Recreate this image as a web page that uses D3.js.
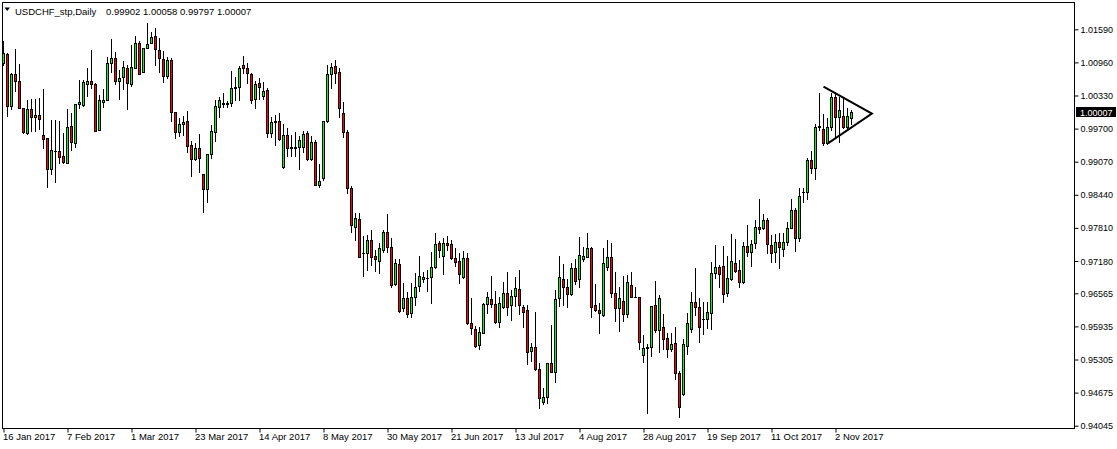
<!DOCTYPE html>
<html><head><meta charset="utf-8">
<script src="https://cdn.jsdelivr.net/npm/d3@7"></script>
<style>
html,body{margin:0;padding:0;background:#fff;overflow:hidden;}
svg{display:block;}
text{font-family:"Liberation Sans",Arial,sans-serif;fill:#000;}
</style></head><body>
<svg id="chart" width="1117" height="449"></svg>
<script>
const symbolLabel = "USDCHF_stp,Daily";
const headerValues = "0.99902 1.00058 0.99797 1.00007";

const open = [1.00949,1.01120,1.00131,1.00740,1.00606,1.00093,0.99617,1.00074,0.99922,0.99960,
0.99579,0.99521,0.98931,0.99274,0.99274,0.99179,0.99046,0.99750,0.99426,1.00169,
1.00150,1.00549,1.00606,1.00549,0.99674,1.00207,1.00245,1.00949,1.01044,1.00606,
1.00682,1.00854,1.00549,1.00854,1.01330,1.00778,1.01235,1.01330,1.01463,1.01196,
1.01025,1.00702,1.01006,1.00017,0.99636,0.99788,0.99845,0.99388,0.99122,0.99331,
0.98836,0.98551,0.99217,0.99636,1.00112,1.00169,1.00169,1.00188,1.00473,1.00492,
1.00911,1.00854,1.00740,1.00264,1.00568,1.00321,1.00435,0.99617,0.99826,0.99845,
0.98969,0.99579,0.99350,0.99331,0.99350,0.99350,0.99617,0.99122,0.99445,0.98627,
0.98760,0.99845,1.00740,1.00892,1.00778,0.99998,0.99636,0.98570,0.97827,0.97980,
0.97333,0.97333,0.97580,0.97275,0.97180,0.97390,0.97732,0.97447,0.96742,0.97123,
0.96286,0.96476,0.96191,0.96495,0.96704,0.96838,0.96857,0.96876,0.97066,0.97523,
0.97275,0.97523,0.97504,0.97237,0.97180,0.96876,0.97237,0.96000,0.95886,0.95581,
0.95810,0.96362,0.96457,0.96362,0.96019,0.96305,0.96571,0.96343,0.96514,0.96647,
0.96305,0.96248,0.95467,0.95543,0.95124,0.94496,0.94591,0.95239,0.95067,0.96476,
0.96838,0.96685,0.96552,0.97047,0.96838,0.97218,0.97256,0.97428,0.96343,0.96248,
0.96153,0.97066,0.97256,0.96571,0.96286,0.96419,0.96172,0.96723,0.96495,0.96495,
0.95391,0.95524,0.95543,0.96343,0.95867,0.95924,0.95715,0.95505,0.95619,0.95048,
0.94649,0.95562,0.95886,0.96400,0.96305,0.96076,0.96076,0.96191,0.96952,0.97066,
0.97085,0.96571,0.96838,0.97142,0.97009,0.96781,0.97466,0.97352,0.97523,0.97827,
0.97808,0.97961,0.97485,0.97352,0.97542,0.97409,0.97542,0.97808,0.98151,0.97618,
0.98494,0.98494,0.99103,0.98950,0.99731,0.99693,0.99426,0.99731,1.00302,0.99922,
0.99941,0.99731,0.99902];

const high = [1.01368,1.01139,1.00759,1.01216,1.00930,1.00100,1.00245,1.00264,1.00264,1.00283,
1.00454,0.99530,0.99864,0.99864,0.99845,0.99617,1.00074,0.99998,1.00175,1.00625,
1.00625,1.00854,1.01196,1.00560,1.00340,1.00454,1.01063,1.01406,1.01158,1.00816,
1.00987,1.00911,1.01292,1.01463,1.01368,1.01240,1.01710,1.01539,1.01615,1.01425,
1.01177,1.01063,1.01044,1.00025,0.99902,0.99941,1.00036,0.99464,0.99426,0.99598,
0.98845,0.99225,0.99769,1.00245,1.00302,1.00378,1.00226,1.00797,1.00682,1.00892,
1.01082,1.00949,1.00750,1.00606,1.00663,1.00587,1.00473,0.99922,0.99960,0.99998,
0.99788,0.99712,0.99579,0.99636,0.99560,0.99655,0.99655,0.99560,0.99483,0.99027,
0.99850,1.00911,1.00949,1.01006,1.00854,1.00207,0.99674,0.98608,0.98094,0.98094,
0.97656,0.97675,0.97770,0.97390,0.97523,0.97770,0.98075,0.97618,0.97218,0.97218,
0.96761,0.96590,0.96761,0.96952,0.97275,0.96971,0.97009,0.97352,0.97713,0.97561,
0.97618,0.97656,0.97580,0.97428,0.97333,0.97371,0.97333,0.96476,0.95943,0.95924,
0.96381,0.96590,0.96895,0.96609,0.96495,0.96781,0.96971,0.96628,0.96876,0.97009,
0.96343,0.96343,0.95619,0.96210,0.95239,0.94763,0.95245,0.95962,0.96628,0.97275,
0.97123,0.96838,0.97142,0.97218,0.97637,0.97447,0.97713,0.97447,0.96742,0.96381,
0.97428,0.97580,0.97523,0.96971,0.96685,0.96895,0.96914,0.96971,0.96685,0.96500,
0.95772,0.95600,0.96330,0.96800,0.96533,0.96172,0.95810,0.95810,0.95924,0.95086,
0.95696,0.96191,0.96590,0.97047,0.96476,0.96400,0.96400,0.97161,0.97485,0.97104,
0.97466,0.97275,0.97694,0.97599,0.97199,0.97542,0.97866,0.97580,0.97961,0.98360,
0.98075,0.97999,0.97675,0.97694,0.97713,0.97713,0.97923,0.98360,0.98189,0.98570,
0.98570,0.99141,0.99274,0.99788,1.00378,0.99979,0.99902,1.00378,1.00359,1.00302,
1.00283,1.00093,1.00058];

const low = [1.00911,0.99941,1.00074,1.00416,1.00090,0.99617,0.99598,0.99655,0.99655,0.99693,
0.99331,0.98589,0.98836,0.98684,0.99046,0.99046,0.99040,0.99293,0.99350,1.00093,
1.00131,1.00321,1.00473,0.99650,0.99670,1.00112,1.00240,1.00778,1.00549,1.00264,
1.00454,1.00074,1.00511,1.00850,1.00735,1.00770,1.01230,1.01325,1.00911,1.00778,
1.00587,1.00663,0.99845,0.99521,0.99560,0.99579,0.99255,0.98798,0.99103,0.98874,
0.98113,0.98303,0.99141,0.99464,0.99922,1.00112,1.00112,1.00131,1.00245,1.00245,
1.00759,1.00568,1.00188,1.00093,1.00264,1.00264,0.99540,0.99540,0.99388,0.99483,
0.98950,0.99179,0.99179,0.99179,0.98931,0.99255,0.99103,0.99103,0.98620,0.98589,
0.98722,0.99826,1.00473,1.00568,0.99922,0.99540,0.98475,0.97732,0.97580,0.97250,
0.96895,0.97009,0.97104,0.96990,0.96952,0.97352,0.97352,0.96685,0.96715,0.96210,
0.96229,0.96115,0.96115,0.96343,0.96609,0.96781,0.96609,0.96381,0.97047,0.97256,
0.96933,0.97390,0.97218,0.97085,0.96761,0.96857,0.95981,0.95791,0.95543,0.95505,
0.95805,0.96191,0.96305,0.96000,0.95924,0.96286,0.96153,0.96057,0.96324,0.96172,
0.95924,0.95220,0.95277,0.95105,0.94382,0.94458,0.94477,0.95060,0.94877,0.96324,
0.96343,0.96305,0.96533,0.96742,0.96685,0.97180,0.97250,0.96115,0.96229,0.95810,
0.96134,0.97009,0.96495,0.96038,0.95848,0.96038,0.96115,0.96490,0.96490,0.95505,
0.95258,0.94287,0.95372,0.95829,0.95448,0.95505,0.95353,0.95467,0.94934,0.94211,
0.94630,0.95410,0.95829,0.96153,0.95638,0.95791,0.95905,0.95886,0.96857,0.96685,
0.96400,0.96514,0.96819,0.96971,0.96685,0.96761,0.97275,0.97085,0.97428,0.97713,
0.97789,0.97333,0.97161,0.97161,0.97047,0.97275,0.97485,0.97800,0.97371,0.97561,
0.98303,0.98360,0.98855,0.98741,0.99674,0.99388,0.99407,0.99674,0.99540,0.99445,
0.99712,0.99693,0.99797];

const close = [1.01139,1.00131,1.00740,1.00606,1.00093,0.99636,1.00074,0.99922,0.99960,0.99883,
0.99502,0.98931,0.99293,0.99274,0.99160,0.99065,0.99731,0.99445,1.00169,1.00207,
1.00587,1.00606,1.00549,0.99655,1.00245,1.00245,1.00949,1.01044,1.00606,1.00663,
1.00873,1.00568,1.00873,1.01330,1.00740,1.01235,1.01311,1.01444,1.01216,1.01044,
1.00702,1.01006,1.00017,0.99636,0.99788,0.99826,0.99369,0.99122,0.99331,0.99141,
0.98551,0.99217,0.99655,1.00131,1.00245,1.00188,1.00188,1.00473,1.00492,1.00854,
1.00854,1.00759,1.00245,1.00549,1.00492,1.00416,0.99617,0.99826,0.99845,0.99502,
0.99579,0.99331,0.99331,0.99350,0.99483,0.99598,0.99122,0.99445,0.98627,0.98703,
0.99845,1.00740,1.00873,1.00759,1.00093,0.99636,0.98570,0.97865,0.97999,0.97256,
0.97333,0.97580,0.97256,0.97218,0.97428,0.97732,0.97447,0.96723,0.97142,0.96229,
0.96476,0.96172,0.96495,0.96685,0.96895,0.96876,0.96857,0.97066,0.97504,0.97390,
0.97523,0.97485,0.97237,0.97161,0.96933,0.97237,0.96000,0.95905,0.95562,0.95829,
0.96362,0.96495,0.96362,0.96019,0.96381,0.96571,0.96305,0.96514,0.96666,0.96343,
0.96210,0.95448,0.95543,0.95124,0.94572,0.94591,0.95239,0.95067,0.96457,0.96876,
0.96685,0.96552,0.97047,0.96800,0.97295,0.97275,0.97428,0.96305,0.96248,0.96191,
0.97142,0.97256,0.96571,0.96286,0.96476,0.96172,0.96781,0.96495,0.96495,0.95638,
0.95524,0.95543,0.96324,0.95867,0.96476,0.95696,0.95505,0.95600,0.95048,0.94401,
0.95600,0.96000,0.96400,0.96305,0.95924,0.96076,0.96210,0.96952,0.97066,0.96933,
0.96552,0.96857,0.97180,0.96990,0.96781,0.97466,0.97352,0.97504,0.97827,0.97789,
0.97961,0.97504,0.97333,0.97542,0.97447,0.97542,0.97808,0.98151,0.97618,0.98418,
0.98494,0.99103,0.98950,0.99731,0.99750,0.99426,0.99731,1.00302,0.99922,1.00055,
0.99731,0.99941,1.00007];

const dateLabels = ["16 Jan 2017","7 Feb 2017","1 Mar 2017","23 Mar 2017","14 Apr 2017","8 May 2017",
"30 May 2017","21 Jun 2017","13 Jul 2017","4 Aug 2017","28 Aug 2017","19 Sep 2017","11 Oct 2017","2 Nov 2017"];
const dateLabelBars = [0,16,32,48,64,80,96,112,128,144,160,176,192,208];

const priceTicks = [1.01590,1.00960,1.00330,0.99700,0.99070,0.98440,0.97810,0.97180,0.96565,0.95935,0.95305,0.94675,0.94045];
const lastPrice = 1.00007;

// triangle object anchors (bar index, price)
const triangleBars = [205, 217.1, 206.1];
const trianglePrices = [1.00498, 0.99984, 0.99420];

const W = 1117, H = 449;
const plot = {left: 2, top: 2, right: 1074, bottom: 428};

const svg = d3.select("#chart");
const x = d3.scaleLinear().domain([0, 267]).range([3.5, 3.5 + 4 * 267]);
const y = d3.scaleLinear().domain([0.94045, 1.01590]).range([425.7, 29.3]);

svg.append("defs").append("clipPath").attr("id", "clip")
  .append("rect").attr("x", plot.left + 1).attr("y", plot.top + 1)
  .attr("width", plot.right - plot.left - 1).attr("height", plot.bottom - plot.top - 1);

const g = svg.append("g").attr("clip-path", "url(#clip)");
const bars = d3.range(open.length).map(i => ({i, o: open[i], h: high[i], l: low[i], c: close[i]}));

const cg = g.selectAll("g.candle").data(bars).enter().append("g").attr("class", "candle");
cg.append("rect")
  .attr("x", d => Math.round(x(d.i) - 0.5))
  .attr("y", d => Math.round(y(d.h)))
  .attr("width", 1)
  .attr("height", d => Math.round(y(d.l)) - Math.round(y(d.h)) + 1)
  .attr("fill", "#000");
cg.each(function(d) {
  const sel = d3.select(this);
  const cx = Math.round(x(d.i) - 0.5) + 0.5;
  const top = Math.round(y(Math.max(d.o, d.c)));
  const bot = Math.round(y(Math.min(d.o, d.c)));
  if (bot - top < 1) {
    sel.append("rect").attr("x", cx - 1.5).attr("y", top).attr("width", 3).attr("height", 1).attr("fill", "#000");
  } else {
    sel.append("rect").attr("x", cx - 1).attr("y", top + 0.5).attr("width", 2).attr("height", bot - top)
      .attr("fill", d.c > d.o ? "#00ff00" : "#ff0000").attr("stroke", "#000").attr("stroke-width", 1);
  }
});

// triangle object
const triPts = triangleBars.map((b, k) => [x(b), y(trianglePrices[k])]);
g.append("path")
  .attr("d", d3.line()(triPts))
  .attr("fill", "none").attr("stroke", "#000").attr("stroke-width", 2);

// frame
svg.append("rect").attr("x", plot.left + 0.5).attr("y", plot.top + 0.5)
  .attr("width", plot.right - plot.left).attr("height", plot.bottom - plot.top)
  .attr("fill", "none").attr("stroke", "#000").attr("stroke-width", 1);

// right price axis
const ya = svg.append("g").attr("transform", `translate(${plot.right + 0.5},0)`)
  .call(d3.axisRight(y).tickValues(priceTicks).tickSize(4).tickPadding(2).tickFormat(d => d.toFixed(5)));
ya.select(".domain").remove();
ya.selectAll(".tick line").attr("stroke", "#000");
ya.selectAll(".tick text").attr("font-family", "Liberation Sans, Arial, sans-serif").attr("font-size", 9)
  .attr("fill", "#000").attr("dy", "0.34em");

// current price label
const yp = y(lastPrice);
svg.append("rect").attr("x", 1076).attr("y", Math.round(yp) - 5).attr("width", 40).attr("height", 10).attr("fill", "#000");
svg.append("text").attr("x", 1080).attr("y", Math.round(yp) + 3.5).attr("font-size", 9)
  .style("fill", "#fff").text(lastPrice.toFixed(5));

// bottom date axis
const xa = svg.append("g").attr("transform", `translate(0,${plot.bottom + 0.5})`)
  .call(d3.axisBottom(x).tickValues(dateLabelBars).tickSize(4).tickFormat((d, k) => dateLabels[k]));
xa.select(".domain").remove();
xa.selectAll(".tick line").attr("stroke", "#000");
xa.selectAll(".tick text").attr("text-anchor", "start").attr("x", -1)
  .attr("font-family", "Liberation Sans, Arial, sans-serif").attr("font-size", 9.5).attr("fill", "#000")
  .attr("y", 5).attr("dy", "0.71em");

// header
svg.append("path").attr("d", "M4.5,7.5 L10,7.5 L7.25,11 Z").attr("fill", "#000");
svg.append("text").attr("x", 15).attr("y", 14.5).attr("font-size", 9.5).text(symbolLabel);
svg.append("text").attr("x", 106).attr("y", 14.5).attr("font-size", 9.5).text(headerValues);
</script>
</body></html>
